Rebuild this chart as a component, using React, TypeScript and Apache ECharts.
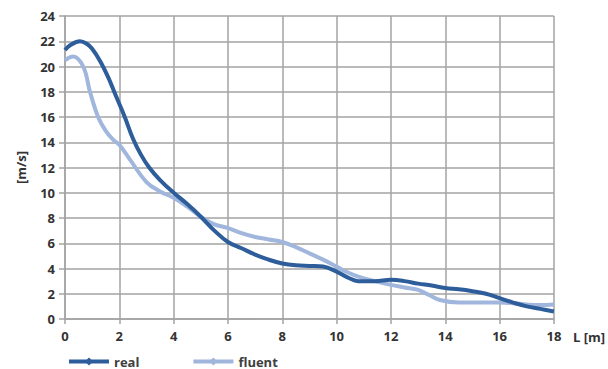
import React, { useEffect, useRef } from "react";
import * as echarts from "echarts";

// Measured velocity profile along the length (L [m] -> m/s)
const realL = [0, 0.2, 0.55, 0.8, 1.0, 1.3, 1.6, 1.83, 2.2, 2.5, 2.8, 3.1, 3.5, 4.0, 4.5, 5.0, 5.5, 6.0, 6.5, 7.0, 7.5, 8.0, 8.5, 9.0, 9.5, 10.0, 10.4, 10.8, 11.4, 12.0, 12.5, 13.0, 13.5, 14.0, 14.5, 15.0, 15.5, 16.0, 16.5, 17.0, 17.5, 18.0];
const realV = [21.3, 21.7, 22.0, 21.8, 21.4, 20.4, 19.1, 17.9, 16.0, 14.3, 13.0, 12.0, 11.0, 10.0, 9.1, 8.1, 7.0, 6.1, 5.6, 5.1, 4.7, 4.4, 4.25, 4.2, 4.15, 3.75, 3.3, 3.0, 3.0, 3.1, 3.0, 2.8, 2.65, 2.45, 2.35, 2.2, 2.0, 1.65, 1.3, 1.0, 0.8, 0.6];

// Simulated (Fluent) velocity profile
const fluentL = [0, 0.3, 0.67, 0.92, 1.22, 1.5, 1.77, 2.0, 2.4, 3.0, 3.5, 4.0, 4.5, 5.0, 5.5, 6.0, 6.5, 7.0, 7.5, 8.0, 8.5, 9.0, 9.5, 10.0, 10.4, 10.8, 11.4, 12.0, 12.5, 13.0, 13.4, 13.8, 14.5, 15.0, 15.5, 16.0, 16.5, 17.0, 17.5, 18.0];
const fluentV = [20.5, 20.8, 20.0, 18.0, 16.0, 14.9, 14.2, 13.8, 12.6, 10.85, 10.1, 9.6, 8.9, 8.1, 7.5, 7.2, 6.8, 6.5, 6.3, 6.1, 5.7, 5.2, 4.7, 4.15, 3.7, 3.35, 3.0, 2.7, 2.5, 2.3, 1.9, 1.5, 1.3, 1.3, 1.3, 1.3, 1.25, 1.15, 1.1, 1.15];

const seriesNames = ["real", "fluent"];
const seriesColors = ["#2d5d9a", "#a0b6dc"];

const font = "'Open Sans', 'Liberation Sans', sans-serif";
const gridColor = "#a3a3a3";

export default function App() {
  const ref = useRef<HTMLDivElement>(null);

  useEffect(() => {
    if (!ref.current) return;
    const chart = echarts.init(ref.current, undefined, { renderer: "svg" });
    const pairs = (xs: number[], ys: number[]) => xs.map((x, i) => [x, ys[i]]);
    chart.setOption({
      animation: false,
      backgroundColor: "#ffffff",
      grid: { left: 65, right: 52, top: 16, bottom: 50 },
      legend: {
        left: 62,
        top: 350,
        itemWidth: 40,
        itemHeight: 10,
        itemGap: 52,
        lineStyle: { width: 4 },
        textStyle: { fontFamily: font, fontSize: 13, fontWeight: "bold", color: "#404040" },
        data: seriesNames,
      },
      xAxis: {
        type: "value",
        min: 0,
        max: 18,
        interval: 2,
        name: "L [m]",
        nameLocation: "end",
        nameGap: 19,
        nameTextStyle: {
          fontFamily: font,
          fontSize: 13,
          fontWeight: "bold",
          color: "#333",
          verticalAlign: "top",
          padding: [11, 0, 0, 0],
        },
        axisLine: { show: true, lineStyle: { color: gridColor, width: 1.5 } },
        axisTick: { show: true, length: 5, lineStyle: { color: gridColor, width: 1.5 } },
        axisLabel: { margin: 10, fontFamily: font, fontSize: 13, fontWeight: "bold", color: "#333" },
        splitLine: { show: true, lineStyle: { color: gridColor, width: 1.5 } },
      },
      yAxis: {
        type: "value",
        min: 0,
        max: 24,
        interval: 2,
        name: "[m/s]",
        nameLocation: "middle",
        nameGap: 38,
        nameRotate: 90,
        nameTextStyle: { fontFamily: font, fontSize: 13, fontWeight: "bold", color: "#333" },
        axisLine: { show: true, lineStyle: { color: gridColor, width: 1.5 } },
        axisTick: { show: true, length: 6, lineStyle: { color: gridColor, width: 1.5 } },
        axisLabel: { margin: 10, fontFamily: font, fontSize: 13, fontWeight: "bold", color: "#333" },
        splitLine: { show: true, lineStyle: { color: gridColor, width: 1.5 } },
      },
      series: [
        {
          name: seriesNames[0],
          type: "line",
          data: pairs(realL, realV),
          smooth: 0.4,
          symbol: "diamond",
          symbolSize: 10,
          showSymbol: false,
          color: seriesColors[0],
          lineStyle: { width: 4, color: seriesColors[0] },
          z: 3,
        },
        {
          name: seriesNames[1],
          type: "line",
          data: pairs(fluentL, fluentV),
          smooth: 0.4,
          symbol: "diamond",
          symbolSize: 10,
          showSymbol: false,
          color: seriesColors[1],
          lineStyle: { width: 4, color: seriesColors[1] },
          z: 2,
        },
      ],
    });
    return () => chart.dispose();
  }, []);

  return <div ref={ref} style={{ width: 608, height: 369, position: "absolute", left: 0, top: 0 }} />;
}
